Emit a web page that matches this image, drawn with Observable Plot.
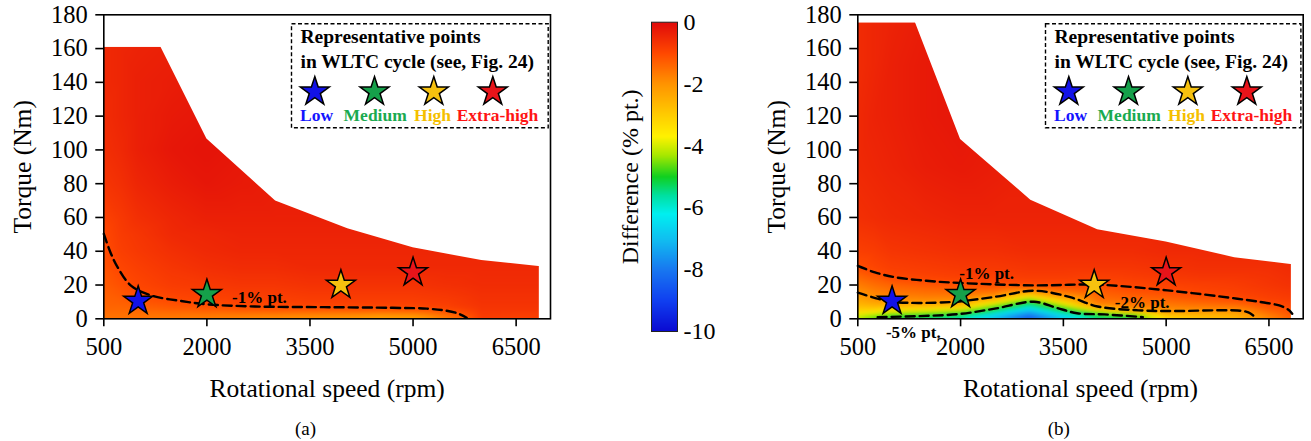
<!DOCTYPE html>
<html>
<head>
<meta charset="utf-8">
<script src="https://cdn.jsdelivr.net/npm/d3@7"></script>
<script src="https://cdn.jsdelivr.net/npm/@observablehq/plot@0.6"></script>
<style>
  body { margin: 0; background: #fff; }
  #fig { position: relative; width: 1311px; height: 441px; overflow: hidden; background: #fff; }
  #fig > svg { position: absolute; top: 0; }
  #fig svg, #fig svg text { font-family: "Liberation Serif", "Times New Roman", Times, serif !important; }
</style>
</head>
<body>
<div id="fig"></div>
<script>
// ---- axes ----
const speedTicks = [500, 2000, 3500, 5000, 6500];
const torqueTicks = [0, 20, 40, 60, 80, 100, 120, 140, 160, 180];
const diffTicks = [-10, -8, -6, -4, -2, 0];

// ---- colour map of the efficiency difference (% pt.) ----
const diffStops = [-10, -9, -8, -7, -6.2, -5.6, -5, -4.3, -3.7, -3, -2, -1, 0];
const diffColors = ["#0a0ad2", "#1040f0", "#1878f0", "#10c0f0", "#00f0f0", "#00e0a0", "#10d020",
                    "#a8e800", "#fff200", "#ffcc00", "#ff9400", "#ff4800", "#e00a0a"];

// ---- representative WLTC operating points ----
const pointNames = ["Low", "Medium", "High", "Extra-high"];
const pointSpeed = [1000, 2000, 3950, 5000];
const pointTorque = [10.5, 14.5, 20, 27.5];
const pointFill = ["#1212e8", "#15a04a", "#f6c10f", "#e8141a"];
const pointLabelColor = ["#1414ff", "#1aaa50", "#f5bf00", "#ff1414"];

// ---- (a) maximum torque envelope ----
const envSpeedA = [500, 1330, 2000, 3000, 4050, 5000, 6000, 6830];
const envTorqueA = [161, 161, 106.5, 69.8, 53.3, 42, 34.5, 31];

// ---- (a) difference map ----
const gridSpeedA = [500, 750, 1000, 1500, 2000, 2500, 3000, 3500, 4000, 4500, 5000, 5500, 6000, 6500, 7000];
const gridTorqueA = [0, 3, 6, 10, 15, 20, 30, 40, 50, 60, 80, 100, 120, 140, 160, 180];
const diffA = [
  [-1.6, -1.5, -1.4, -1.35, -1.3, -1.25, -1.15, -1.07, -1.0, -0.9, -0.7, -0.6, -0.55, -0.5, -0.5, -0.5],
  [-1.6, -1.5, -1.4, -1.3, -1.2, -1.1, -0.95, -0.85, -0.8, -0.75, -0.6, -0.5, -0.45, -0.45, -0.45, -0.45],
  [-1.6, -1.5, -1.35, -1.2, -1.05, -0.95, -0.85, -0.75, -0.7, -0.6, -0.45, -0.35, -0.35, -0.35, -0.4, -0.4],
  [-1.7, -1.5, -1.25, -1.05, -0.9, -0.8, -0.7, -0.6, -0.5, -0.45, -0.3, -0.2, -0.25, -0.3, -0.35, -0.35],
  [-1.8, -1.5, -1.2, -0.95, -0.85, -0.75, -0.6, -0.5, -0.45, -0.35, -0.2, -0.15, -0.2, -0.25, -0.3, -0.3],
  [-1.9, -1.55, -1.1, -0.9, -0.8, -0.7, -0.55, -0.45, -0.4, -0.35, -0.25, -0.2, -0.2, -0.25, -0.3, -0.3],
  [-2.0, -1.6, -1.05, -0.9, -0.8, -0.7, -0.55, -0.45, -0.4, -0.35, -0.3, -0.3, -0.3, -0.3, -0.3, -0.3],
  [-2.1, -1.65, -1.05, -0.85, -0.75, -0.65, -0.5, -0.45, -0.4, -0.35, -0.3, -0.3, -0.3, -0.3, -0.3, -0.3],
  [-2.2, -1.7, -1.03, -0.85, -0.75, -0.65, -0.5, -0.45, -0.4, -0.35, -0.3, -0.3, -0.3, -0.3, -0.3, -0.3],
  [-2.4, -1.8, -1.02, -0.85, -0.75, -0.65, -0.5, -0.45, -0.4, -0.35, -0.3, -0.3, -0.3, -0.3, -0.3, -0.3],
  [-2.4, -1.75, -1.0, -0.85, -0.75, -0.65, -0.5, -0.45, -0.4, -0.35, -0.3, -0.3, -0.3, -0.3, -0.3, -0.3],
  [-1.8, -1.3, -0.9, -0.8, -0.7, -0.6, -0.5, -0.45, -0.4, -0.35, -0.3, -0.3, -0.3, -0.3, -0.3, -0.3],
  [-0.8, -0.75, -0.7, -0.65, -0.6, -0.55, -0.5, -0.45, -0.4, -0.35, -0.3, -0.3, -0.3, -0.3, -0.3, -0.3],
  [-0.9, -0.8, -0.7, -0.65, -0.6, -0.55, -0.5, -0.45, -0.4, -0.35, -0.3, -0.3, -0.3, -0.3, -0.3, -0.3],
  [-0.9, -0.8, -0.7, -0.65, -0.6, -0.55, -0.5, -0.45, -0.4, -0.35, -0.3, -0.3, -0.3, -0.3, -0.3, -0.3]
];

// ---- (a) iso-difference line ----
const isoA1Speed = [500, 600, 700, 900, 1200, 1600, 2000, 2700, 3700, 4700, 5200, 5450, 5650, 5780];
const isoA1Torque = [50.3, 39, 30.6, 19.5, 13.7, 10.7, 8.6, 7.3, 6.9, 6.5, 6.0, 5.0, 3.2, 0.6];

// ---- (b) maximum torque envelope ----
const envSpeedB = [500, 1340, 2000, 3025, 4000, 5000, 6000, 6820];
const envTorqueB = [175.4, 175.4, 106.2, 70.2, 52.8, 45.5, 36.2, 32.2];

// ---- (b) difference map ----
const gridSpeedB = [500, 750, 1000, 1500, 2000, 2500, 3000, 3500, 4000, 4500, 5000, 5500, 6000, 6500, 7000];
const gridTorqueB = [0, 1.5, 3, 5, 7.5, 10, 12.5, 15, 17.5, 20, 25, 30, 40, 60, 90, 120, 150, 180];
const diffB = [
  [-4.3, -4.0, -3.6, -3.1, -2.7, -2.45, -2.25, -2.05, -1.85, -1.7, -1.4, -1.08, -0.85, -0.6, -0.5, -0.5, -0.55, -0.55],
  [-4.9, -4.4, -3.8, -3.2, -2.6, -2.2, -1.95, -1.8, -1.65, -1.5, -1.2, -0.95, -0.8, -0.55, -0.45, -0.4, -0.45, -0.45],
  [-5.3, -4.95, -4.2, -3.4, -2.6, -2.0, -1.8, -1.65, -1.5, -1.35, -0.98, -0.85, -0.7, -0.5, -0.4, -0.35, -0.35, -0.4],
  [-5.6, -5.15, -4.5, -3.6, -2.7, -2.0, -1.75, -1.55, -1.4, -1.2, -0.9, -0.8, -0.65, -0.45, -0.3, -0.25, -0.25, -0.3],
  [-6.0, -5.5, -4.9, -4.0, -2.9, -2.05, -1.75, -1.5, -1.3, -1.1, -0.85, -0.75, -0.6, -0.4, -0.25, -0.2, -0.2, -0.2],
  [-7.2, -6.8, -6.2, -5.4, -4.4, -3.3, -2.2, -1.7, -1.35, -1.05, -0.85, -0.75, -0.6, -0.4, -0.3, -0.3, -0.3, -0.3],
  [-8.6, -8.3, -7.6, -6.9, -5.9, -5.0, -3.8, -2.6, -1.7, -1.0, -0.8, -0.7, -0.55, -0.4, -0.35, -0.35, -0.35, -0.35],
  [-7.0, -6.6, -6.0, -5.2, -4.2, -3.2, -2.3, -1.75, -1.35, -1.0, -0.8, -0.7, -0.55, -0.4, -0.35, -0.35, -0.35, -0.35],
  [-5.6, -5.3, -4.8, -3.5, -1.95, -1.6, -1.45, -1.35, -1.2, -1.02, -0.85, -0.7, -0.55, -0.4, -0.35, -0.35, -0.35, -0.35],
  [-5.3, -5.0, -3.8, -2.05, -1.7, -1.5, -1.35, -1.2, -1.05, -0.95, -0.8, -0.7, -0.55, -0.4, -0.35, -0.35, -0.35, -0.35],
  [-3.5, -3.0, -2.5, -1.95, -1.7, -1.5, -1.3, -1.12, -0.97, -0.9, -0.75, -0.65, -0.5, -0.4, -0.35, -0.35, -0.35, -0.35],
  [-3.0, -2.7, -2.35, -1.97, -1.6, -1.35, -1.13, -0.98, -0.9, -0.85, -0.7, -0.6, -0.5, -0.4, -0.35, -0.35, -0.35, -0.35],
  [-2.8, -2.5, -2.25, -1.98, -1.55, -1.2, -0.98, -0.9, -0.85, -0.8, -0.7, -0.6, -0.5, -0.4, -0.35, -0.35, -0.35, -0.35],
  [-1.9, -1.75, -1.55, -1.35, -1.12, -0.95, -0.85, -0.8, -0.75, -0.7, -0.65, -0.6, -0.5, -0.4, -0.35, -0.35, -0.35, -0.35],
  [-1.1, -1.0, -0.95, -0.9, -0.85, -0.8, -0.75, -0.7, -0.65, -0.6, -0.55, -0.5, -0.45, -0.4, -0.35, -0.35, -0.35, -0.35]
];

// ---- (b) iso-difference lines ----
const isoB1Speed = [500, 750, 1030, 1500, 2000, 3080, 4000, 5020, 6040, 6400, 6650, 6780, 6840];
const isoB1Torque = [31.3, 27.5, 24.7, 22.5, 21.2, 19.8, 20.2, 16.8, 11.9, 9.8, 7.9, 5.5, 3.0];
const isoB2Speed = [500, 800, 1030, 1850, 2500, 3080, 3600, 4000, 4600, 5100, 6040, 6200, 6300];
const isoB2Torque = [15.5, 11.8, 9.9, 9.9, 13.0, 16.6, 12.8, 7.3, 5.0, 4.6, 4.9, 3.8, 1.0];
const isoB5Speed = [790, 1400, 1970, 2500, 3070, 3400, 3700, 4100, 4660];
const isoB5Torque = [1.0, 1.6, 2.8, 6.0, 10.1, 6.5, 3.3, 2.6, 1.0];

// ---- line labels ----
const labelsA = [{speed: 2765, torque: 12.8, text: "-1% pt."}];
const labelsB = [
  {speed: 2380, torque: 27.0, text: "-1% pt."},
  {speed: 4650, torque: 9.8, text: "-2% pt."},
  {speed: 1310, torque: -7.9, text: "-5% pt."}
];

// ---------------------------------------------------------------
const serif = "Liberation Serif";
const colorScale = {type: "linear", domain: diffStops, range: diffColors, interpolate: "rgb", clamp: true};
const txt = {fontFamily: serif, fill: "black", textAnchor: "middle", lineAnchor: "middle"};

const zip = (xs, ys) => xs.map((x, i) => ({speed: x, torque: ys[i]}));

function gridTable(speeds, torques, cols) {
  const rows = [];
  speeds.forEach((s, i) => torques.forEach((t, j) => rows.push({speed: s, torque: t, diff: cols[i][j]})));
  return rows;
}

function legendMarks() {
  const marks = [
    Plot.frame({fill: "white", stroke: "black", strokeWidth: 1.4, strokeDasharray: "4,2.5",
                insetLeft: 187.7, insetRight: 2.3, insetTop: 9, insetBottom: 191}),
    Plot.text(["Representative points"], {...txt, text: d => d, frameAnchor: "top-left", dx: 196.7, dy: 21.7,
              textAnchor: "start", fontWeight: "bold", fontSize: 19.5}),
    Plot.text(["in WLTC cycle (see, Fig. 24)"], {...txt, text: d => d, frameAnchor: "top-left", dx: 196.7, dy: 46.7,
              textAnchor: "start", fontWeight: "bold", fontSize: 19.5})
  ];
  const starDx = [211, 270.7, 330, 389];
  const labelDx = [212.7, 271.4, 328.7, 393.7];
  pointNames.forEach((name, i) => {
    marks.push(Plot.dot([name], {frameAnchor: "top-left", dx: starDx[i], dy: 77, symbol: "star", r: 9.1,
                                 fill: pointFill[i], stroke: "black", strokeWidth: 1.5}));
    marks.push(Plot.text([name], {...txt, text: d => d, frameAnchor: "top-left", dx: labelDx[i], dy: 100.7,
                                  fontWeight: "bold", fontSize: 17.5, fill: pointLabelColor[i]}));
  });
  return marks;
}

function panel({width, marginRight, grid, envS, envT, isos, labels, caption}) {
  // white cover above the maximum torque curve, carried to the right edge of the frame
  const cover = [...zip(envS, envT), {speed: 7000, torque: envT[envT.length - 1]}];
  return Plot.plot({
    width, height: 441,
    marginLeft: 103.3, marginRight, marginTop: 14.3, marginBottom: 122.7,
    style: {fontFamily: serif, fontSize: "24.5px", background: "transparent", overflow: "visible"},
    x: {domain: [500, 7000]},
    y: {domain: [0, 180]},
    color: colorScale,
    marks: [
      Plot.raster(grid, {x: "speed", y: "torque", fill: "diff", interpolate: "barycentric", blur: 2,
                         x1: 500, x2: envS[envS.length - 1], y1: 0, y2: envT[0], pixelSize: 1}),
      Plot.areaY(cover, {x: "speed", y1: "torque", y2: 180, fill: "white"}),
      ...isos.map(iso => Plot.line(iso, {x: "speed", y: "torque", curve: "catmull-rom",
                                         stroke: "black", strokeWidth: 2.4, strokeDasharray: "9,5"})),
      Plot.text(labels, {...txt, x: "speed", y: "torque", text: "text", fontWeight: "bold", fontSize: 17}),
      ...pointNames.map((name, i) => Plot.dot([{speed: pointSpeed[i], torque: pointTorque[i]}],
        {x: "speed", y: "torque", symbol: "star", r: 9.1, fill: pointFill[i], stroke: "black", strokeWidth: 1.5})),
      ...legendMarks(),
      Plot.frame({stroke: "black", strokeWidth: 1.6}),
      Plot.axisX({ticks: speedTicks, tickSize: 8, tickPadding: 11, tickFormat: d => String(d), label: null,
                  strokeWidth: 1.6, fontFamily: serif, fontSize: 24.5}),
      Plot.axisY({ticks: torqueTicks, tickSize: 8, tickPadding: 8, tickFormat: d => String(d), label: null,
                  strokeWidth: 1.6, fontFamily: serif, fontSize: 24.5}),
      Plot.text(["Torque (Nm)"], {...txt, text: d => d, frameAnchor: "left", dx: -81, rotate: -90, fontSize: 25.5}),
      Plot.text(["Rotational speed (rpm)"], {...txt, text: d => d, frameAnchor: "bottom", dy: 69.7, fontSize: 25.5}),
      Plot.text([caption], {...txt, text: d => d, frameAnchor: "bottom", dx: -21.7, dy: 109.7, fontSize: 19})
    ]
  });
}

const chartA = panel({
  width: 560, marginRight: 10,
  grid: gridTable(gridSpeedA, gridTorqueA, diffA),
  envS: envSpeedA, envT: envTorqueA,
  isos: [zip(isoA1Speed, isoA1Torque)],
  labels: labelsA, caption: "(a)"
});

const chartB = panel({
  width: 557, marginRight: 8.3,
  grid: gridTable(gridSpeedB, gridTorqueB, diffB),
  envS: envSpeedB, envT: envTorqueB,
  isos: [zip(isoB1Speed, isoB1Torque), zip(isoB2Speed, isoB2Torque), zip(isoB5Speed, isoB5Torque)],
  labels: labelsB, caption: "(b)"
});

const colorbar = Plot.plot({
  width: 140, height: 441,
  marginLeft: 61, marginRight: 53, marginTop: 21.7, marginBottom: 110,
  style: {fontFamily: serif, fontSize: "24px", background: "transparent", overflow: "visible"},
  x: {domain: [0, 1], axis: null},
  y: {domain: [-10, 0]},
  color: colorScale,
  marks: [
    Plot.raster({fill: (x, y) => y, x1: 0, x2: 1, y1: -10, y2: 0, pixelSize: 1}),
    Plot.frame({stroke: "#222", strokeWidth: 1}),
    Plot.axisY({anchor: "right", ticks: diffTicks, tickSize: 0, tickPadding: 6, tickFormat: d => String(d),
                label: null, fontFamily: serif, fontSize: 24}),
    Plot.text(["Difference (% pt.)"], {...txt, text: d => d, frameAnchor: "left", dx: -21, rotate: -90, fontSize: 24})
  ]
});

const fig = document.getElementById("fig");
chartA.style.left = "0px";
colorbar.style.left = "590px";
chartB.style.left = "754px";
fig.append(chartA, colorbar, chartB);
</script>
</body>
</html>
